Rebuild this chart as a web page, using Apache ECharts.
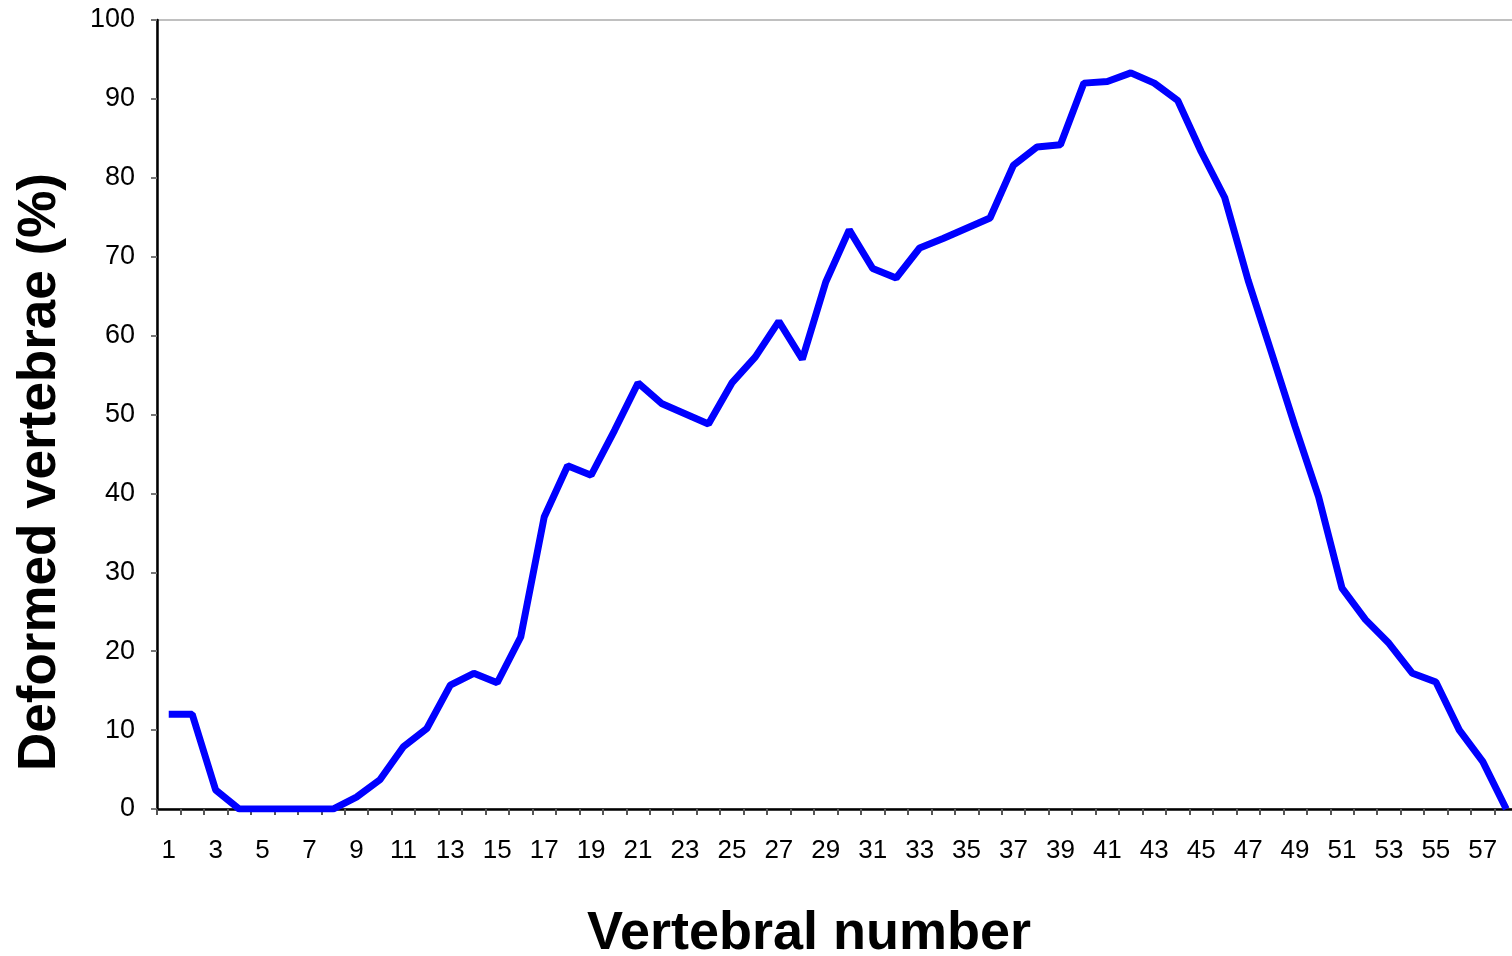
<!DOCTYPE html>
<html>
<head>
<meta charset="utf-8">
<script src="https://cdn.jsdelivr.net/npm/echarts@6/dist/echarts.min.js"></script>
<style>
  html, body { margin: 0; padding: 0; background: #fff; overflow: hidden; width: 1512px; height: 956px; }
  #chart { width: 1530px; height: 956px; }
</style>
</head>
<body>
<div id="chart"></div>
<script>
const vertebrae = ['1','2','3','4','5','6','7','8','9','10','11','12','13','14','15','16','17','18','19','20',
  '21','22','23','24','25','26','27','28','29','30','31','32','33','34','35','36','37','38','39','40',
  '41','42','43','44','45','46','47','48','49','50','51','52','53','54','55','56','57','58'];
const deformedPct = [12, 12, 2.4, 0, 0, 0, 0, 0, 1.5, 3.7, 7.9, 10.2, 15.7, 17.2, 16.0, 21.8, 37.0, 43.5, 42.3, 48.0,
  54.0, 51.4, 50.1, 48.8, 54.0, 57.3, 61.8, 57.0, 66.8, 73.4, 68.5, 67.3, 71.1, 72.3, 73.6, 74.9, 81.6, 83.9, 84.2, 92.0,
  92.2, 93.3, 92.0, 89.8, 83.3, 77.5, 67.0, 57.8, 48.5, 39.6, 28.0, 24.0, 21.0, 17.2, 16.1, 10.0, 6.0, 0];
const yTitle = 'Deformed vertebrae (%)';
const xTitle = 'Vertebral number';

const chart = echarts.init(document.getElementById('chart'), null, { renderer: 'canvas' });
const font = '"Liberation Sans", Arial, sans-serif';
chart.setOption({
  animation: false,
  backgroundColor: '#ffffff',
  grid: {
    left: 157, top: 20, width: 1361, height: 789,
    show: true, borderColor: '#c0c0c0', borderWidth: 2, backgroundColor: 'transparent'
  },
  xAxis: {
    type: 'category',
    data: vertebrae,
    boundaryGap: true,
    axisLine: { show: true, lineStyle: { color: '#000', width: 2.5 } },
    axisTick: { show: true, interval: 0, length: 6, lineStyle: { color: '#555', width: 2 } },
    axisLabel: { interval: 1, margin: 29, fontSize: 26, color: '#000', fontFamily: font },
    splitLine: { show: false }
  },
  yAxis: {
    type: 'value',
    min: 0, max: 100, interval: 10,
    axisLine: { show: true, lineStyle: { color: '#000', width: 2.5 } },
    axisTick: { show: true, length: 6, lineStyle: { color: '#777', width: 2 } },
    axisLabel: { margin: 22, fontSize: 27, color: '#000', fontFamily: font },
    splitLine: { show: false }
  },
  graphic: [
    {
      type: 'text', x: 40, y: 472, rotation: Math.PI / 2,
      style: { text: yTitle, font: 'bold 53px ' + font, fill: '#000', align: 'center', verticalAlign: 'middle' }
    },
    {
      type: 'text', x: 809, y: 934,
      style: { text: xTitle, font: 'bold 54px ' + font, fill: '#000', align: 'center', verticalAlign: 'middle' }
    }
  ],
  series: [{
    type: 'line',
    data: deformedPct,
    showSymbol: false,
    symbol: 'none',
    lineStyle: { color: '#0000ff', width: 7 },
    itemStyle: { color: '#0000ff' }
  }]
});
</script>
</body>
</html>
